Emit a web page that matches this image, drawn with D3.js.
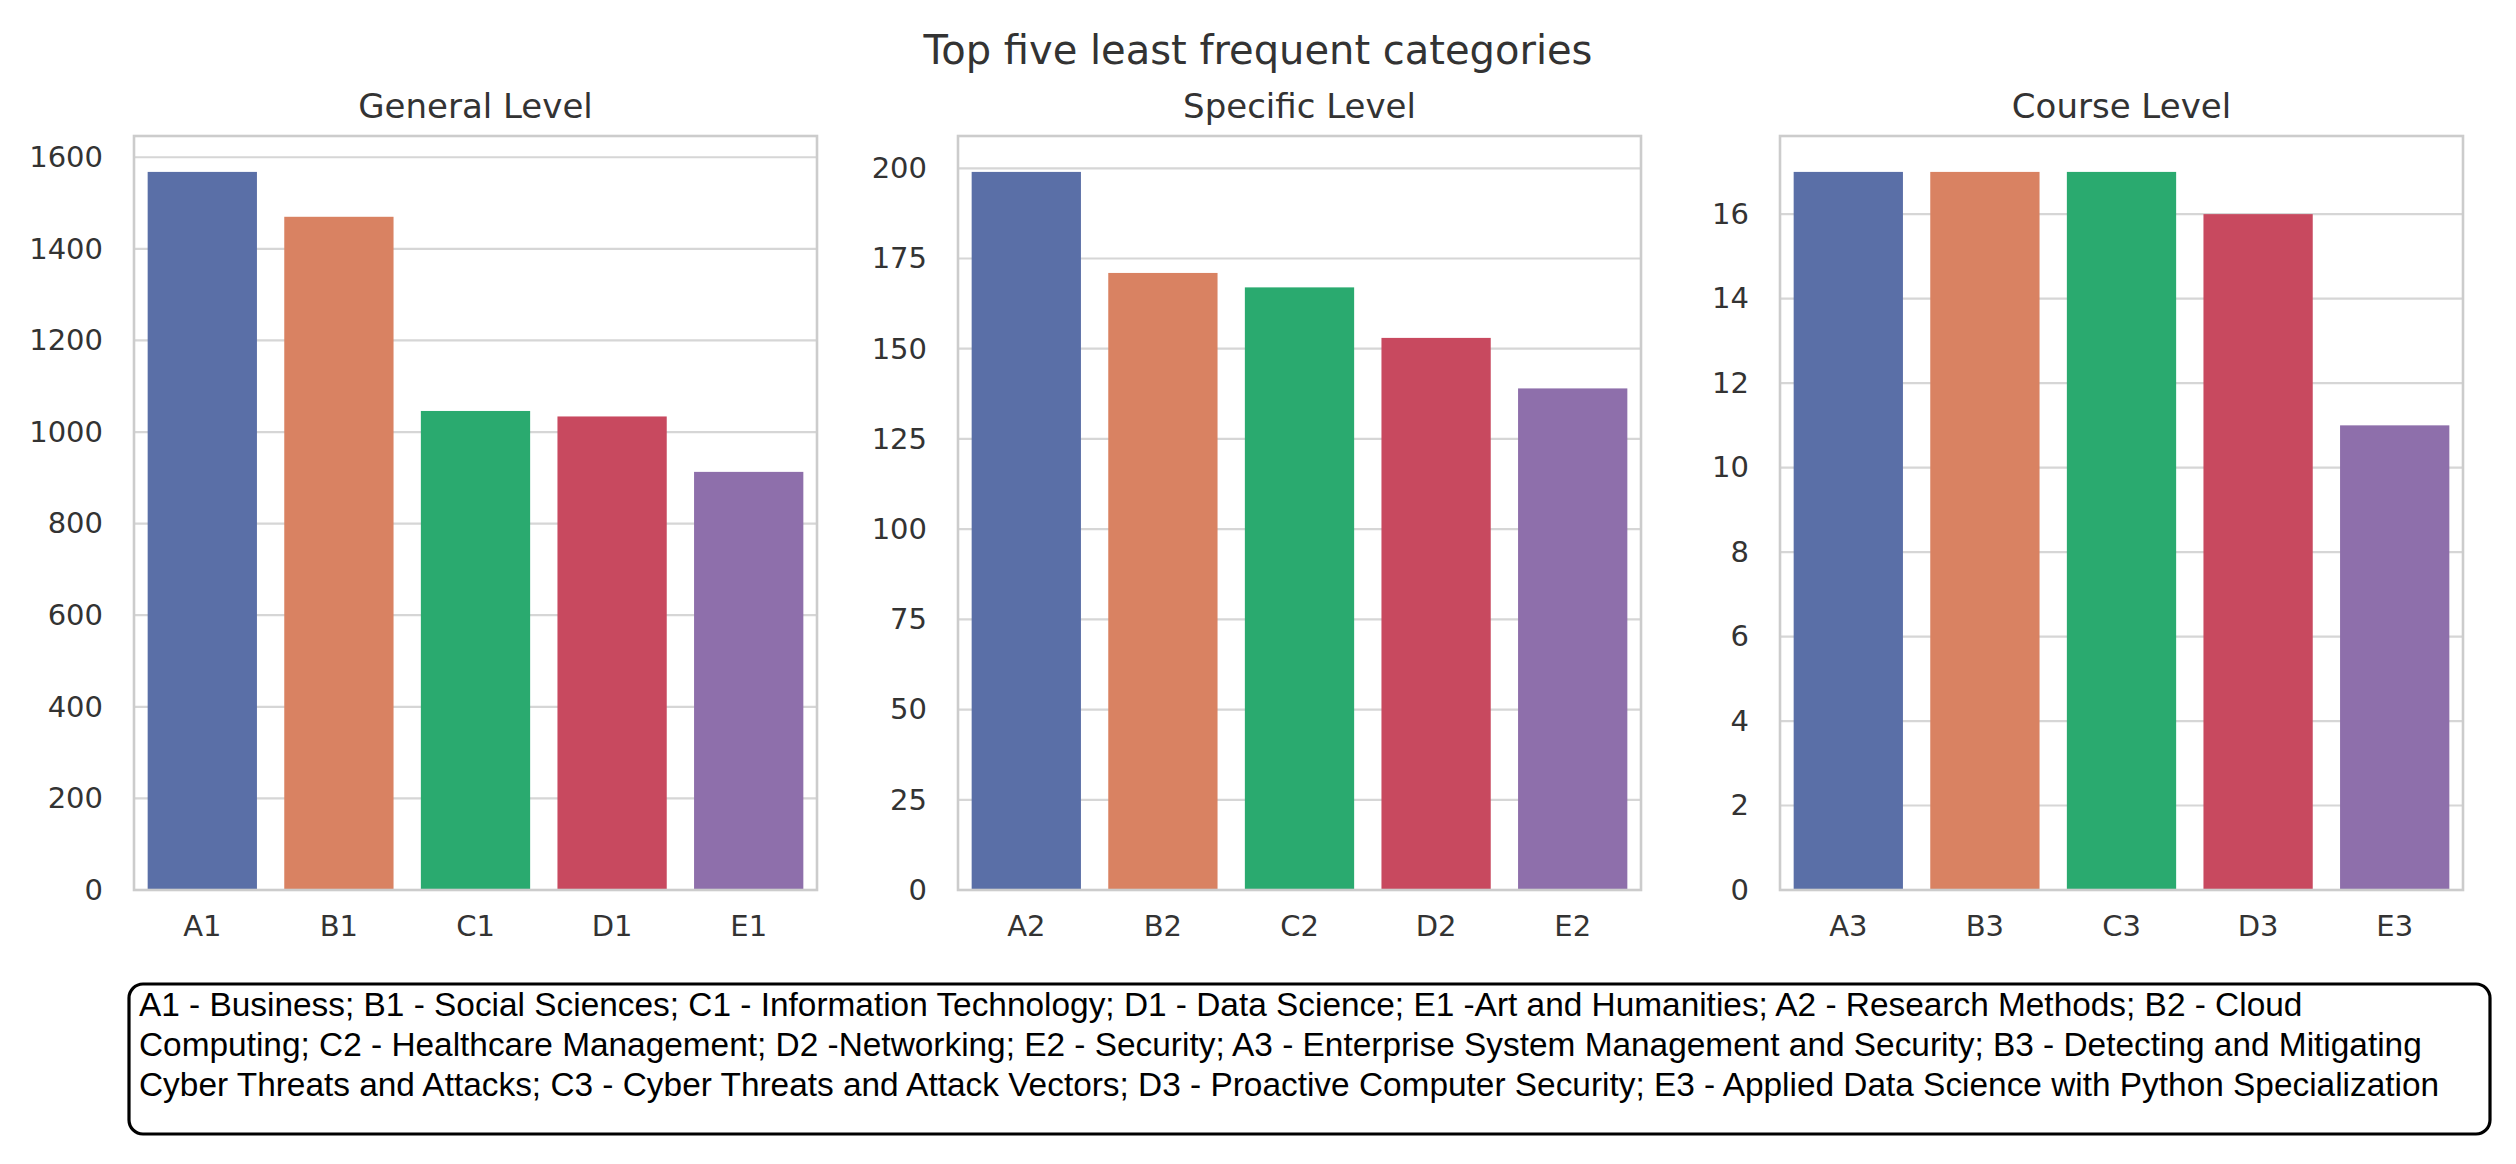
<!DOCTYPE html>
<html>
<head>
<meta charset="utf-8">
<script src="https://cdn.jsdelivr.net/npm/d3@7"></script>
<style>
body { margin: 0; background: #fff; }
</style>
</head>
<body>
<div id="chart"></div>
<script>
// data
const generalCats = ["A1", "B1", "C1", "D1", "E1"];
const generalVals = [1568, 1470, 1046, 1034, 913];
const generalTicks = [0, 200, 400, 600, 800, 1000, 1200, 1400, 1600];

const specificCats = ["A2", "B2", "C2", "D2", "E2"];
const specificVals = [199, 171, 167, 153, 139];
const specificTicks = [0, 25, 50, 75, 100, 125, 150, 175, 200];

const courseCats = ["A3", "B3", "C3", "D3", "E3"];
const courseVals = [17, 17, 17, 16, 11];
const courseTicks = [0, 2, 4, 6, 8, 10, 12, 14, 16];

const barColors = ["#5a6fa7", "#d98262", "#2aaa6f", "#c8495f", "#8e6fab"];

const legendLines = [
  "A1 - Business; B1 - Social Sciences; C1 - Information Technology; D1 - Data Science; E1 -Art and Humanities; A2 - Research Methods; B2 - Cloud",
  "Computing; C2 - Healthcare Management; D2 -Networking; E2 - Security; A3 - Enterprise System Management and Security; B3 - Detecting and Mitigating",
  "Cyber Threats and Attacks; C3 - Cyber Threats and Attack Vectors; D3 - Proactive Computer Security; E3 - Applied Data Science with Python Specialization"
];

const width = 2516, height = 1164;
const plotTop = 136, plotBottom = 890, panelW = 683;
const textColor = "#333";

const svg = d3.select("#chart")
  .append("svg")
  .attr("width", width)
  .attr("height", height)
  .style("font-family", "'DejaVu Sans', sans-serif");

// suptitle
svg.append("text")
  .attr("x", width / 2)
  .attr("y", 64)
  .attr("text-anchor", "middle")
  .attr("fill", textColor)
  .style("font-size", "40px")
  .text("Top five least frequent categories");

const panels = [
  {title: "General Level", cats: generalCats, vals: generalVals, ticks: generalTicks, left: 134},
  {title: "Specific Level", cats: specificCats, vals: specificVals, ticks: specificTicks, left: 958},
  {title: "Course Level", cats: courseCats, vals: courseVals, ticks: courseTicks, left: 1780}
];

panels.forEach(p => {
  const g = svg.append("g").attr("transform", `translate(${p.left},0)`);

  const x = d3.scaleBand()
    .domain(p.cats)
    .range([0, panelW])
    .paddingInner(0.2)
    .paddingOuter(0.1);

  const y = d3.scaleLinear()
    .domain([0, d3.max(p.vals) * 1.05])
    .range([plotBottom, plotTop]);

  // horizontal grid
  g.selectAll(".grid")
    .data(p.ticks)
    .enter()
    .append("line")
    .attr("x1", 0)
    .attr("x2", panelW)
    .attr("y1", d => y(d))
    .attr("y2", d => y(d))
    .attr("stroke", "#d6d6d6")
    .attr("stroke-width", 2.2);

  // bars
  g.selectAll(".bar")
    .data(p.vals)
    .enter()
    .append("rect")
    .attr("x", (d, i) => x(p.cats[i]))
    .attr("y", d => y(d))
    .attr("width", x.bandwidth())
    .attr("height", d => plotBottom - y(d))
    .attr("fill", (d, i) => barColors[i]);

  // y axis labels
  const yAxis = g.append("g")
    .call(d3.axisLeft(y).tickValues(p.ticks).tickFormat(d3.format("d")).tickSize(0).tickPadding(31));
  yAxis.select(".domain").remove();
  yAxis.selectAll("text")
    .attr("fill", textColor)
    .style("font-size", "29px")
    .style("font-family", "'DejaVu Sans', sans-serif");

  // x axis labels
  const xAxis = g.append("g")
    .attr("transform", `translate(0,${plotBottom})`)
    .call(d3.axisBottom(x).tickSize(0).tickPadding(25));
  xAxis.select(".domain").remove();
  xAxis.selectAll("text")
    .attr("fill", textColor)
    .style("font-size", "29px")
    .style("font-family", "'DejaVu Sans', sans-serif");

  // frame
  g.append("rect")
    .attr("x", 0)
    .attr("y", plotTop)
    .attr("width", panelW)
    .attr("height", plotBottom - plotTop)
    .attr("fill", "none")
    .attr("stroke", "#cccccc")
    .attr("stroke-width", 2.6);

  // panel title
  g.append("text")
    .attr("x", panelW / 2)
    .attr("y", 118)
    .attr("text-anchor", "middle")
    .attr("fill", textColor)
    .style("font-size", "34px")
    .text(p.title);
});

// legend box with the category key
svg.append("rect")
  .attr("x", 129)
  .attr("y", 984)
  .attr("width", 2490 - 129)
  .attr("height", 1134 - 984)
  .attr("rx", 14)
  .attr("fill", "#fff")
  .attr("stroke", "#000")
  .attr("stroke-width", 3.2);

svg.selectAll(".legend-line")
  .data(legendLines)
  .enter()
  .append("text")
  .attr("x", 139)
  .attr("y", (d, i) => 1016 + i * 40)
  .attr("fill", "#000")
  .style("font-family", "'Liberation Sans', Arial, sans-serif")
  .style("font-size", "33.4px")
  .text(d => d);
</script>
</body>
</html>
